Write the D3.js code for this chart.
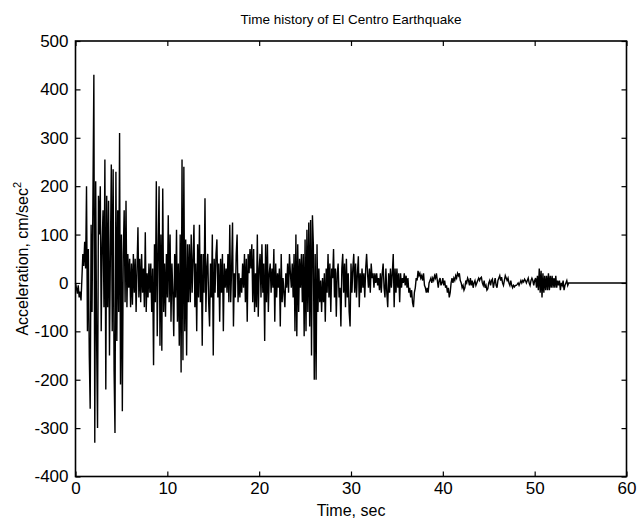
<!DOCTYPE html>
<html>
<head>
<meta charset="utf-8">
<script src="https://cdn.jsdelivr.net/npm/d3@7"></script>
<style>
    body { margin: 0; background: #fff; }
    svg text { font-family: "Liberation Sans", Arial, sans-serif; fill: #000; }
</style>
</head>
<body>
<div id="chart"></div>
<script>
// sampling step of the record, sec
var dt = 0.1;

// acceleration, cm/sec^2, every 0.1 sec
var accel_0_10 = [
    0, -10, -22, -5, -30, -18, -36, 10, 60, 35,
    85, 30, 200, -100, 70, -150, -260, 120, -60, 180,
    430, -330, 210, -120, -300, 180, 100, 200, -100, 80,
    150, -50, 255, -220, 180, -50, 170, -150, 60, 245,
    -100, 235, -180, -310, 230, -120, 150, -60, 310, -210,
    100, -265, 60, 150, -40, 170, -50, 60, -10, 50,
    -50, 40, -45, 60, -20, 50, -60, 30, 115, -30,
    50, -40, 60, -20, 30, -50, 105, -60, 20, -30,
    40, -20, 40, -60, 30, -170, 80, -40, 210, -110,
    60, 200, -130, 100, -140, 195, -60, 40, -70, 60
];
var accel_10_20 = [
    -30, 140, -40, 100, -80, 40, -20, -110, 60, -30,
    110, -80, 40, -130, 100, -185, 255, -160, 240, -100,
    90, -150, 80, -40, 80, -40, 100, -20, 50, 120,
    -50, 40, -100, 80, -30, 120, -40, 60, -130, 60,
    -20, 175, -60, 30, 60, -40, -90, 40, -30, 100,
    -150, 50, -20, 60, 90, -30, 40, -80, 50, -20,
    60, -100, 40, -10, 30, -20, 60, -40, 120, -40,
    30, 125, -90, 20, -30, 60, 100, -40, 20, -30,
    10, -20, 40, -10, 60, -40, 50, -80, 60, 20,
    70, 30, 80, -40, 70, -60, 20, -50, 100, -70
];
var accel_20_30 = [
    30, 60, -30, 80, -20, 40, -120, 80, -40, 80,
    -60, 20, 40, -20, 30, -10, 70, -80, 40, -30,
    20, -10, 30, -90, 60, -40, 10, -20, -50, 20,
    -10, 40, -20, 60, 20, -10, 40, -30, 60, -100,
    100, -110, 80, -60, 50, -10, 60, -40, 60, -110,
    90, -100, 110, -60, 125, -90, 130, -150, 140, 80,
    -200, 60, -200, 80, -60, 30, -40, 5, -60, 10,
    -40, 20, -80, 30, -20, 60, -30, 40, -60, 30,
    10, 70, -30, 30, -70, 20, 40, -30, -10, -90,
    30, 60, -20, 40, -50, 50, -30, 20, -60, -90
];
var accel_30_40 = [
    40, -20, 30, 60, -20, 40, -30, 20, 55, -50,
    20, -20, 30, -10, 20, -30, 30, 60, 20, -10,
    30, -20, 40, 10, 20, -10, 20, 0, 20, -5,
    10, -15, 20, -20, 20, 40, -10, -30, 30, -20,
    -50, 20, -20, 30, -10, 20, 60, -50, 30, -20,
    30, -10, 20, -40, 20, -10, 10, 0, 20, -5,
    15, -10, 10, -20, -10, -30, -15, -40, -50, -20,
    -10, 10, 5, 25, 15, 20, 10, 15, 5, 20,
    -5, -10, -20, -10, -20, 0, 5, 10, 0, 10,
    5, 15, 10, 20, 5, -10, 5, 10, -5, 0
];
var accel_40_50 = [
    10, -5, 5, -10, -5, -20, -10, -30, -20, 0,
    10, 0, 10, 5, 15, 10, 20, 15, 20, 5,
    0, -10, -5, -15, -10, 5, 0, 10, 5, -5,
    10, -5, 5, -10, 0, 5, -5, 0, 5, 10,
    5, 10, 12, 0, -5, 5, -10, -5, -15, -12,
    0, 5, -5, 5, 8, -10, 0, 10, -5, -10,
    5, 10, 15, 5, 12, 0, -5, 5, 15, 10,
    5, 10, 0, -5, 5, -5, -10, -5, -8, -5,
    -5, -3, 0, -5, 0, 5, 0, 5, 2, 8,
    5, 0, 5, 10, 0, -5, 5, 10, 5, -5
];
var accel_50_end = [
    5, 10, -10, 15, -15, 30, -20, 25, -30, 20,
    -20, 15, -15, 15, -15, 20, -15, 15, -10, 15,
    -10, 10, -10, 15, -10, 5, -5, 5, -15, 0,
    -5, 5, -15, -5, 0, 5, -5, 0
];
// flat tail after the record ends
var tail_time = [60];
var tail_accel = [0];

var x_ticks = [0, 10, 20, 30, 40, 50, 60];
var y_ticks = [-400, -300, -200, -100, 0, 100, 200, 300, 400, 500];

var accel = [].concat(accel_0_10, accel_10_20, accel_20_30, accel_30_40, accel_40_50, accel_50_end);
var data = accel.map(function (v, i) {
    return { t: i * dt, v: v };
});
tail_time.forEach(function (t, i) {
    data.push({ t: t, v: tail_accel[i] });
});

var margin = { top: 41, right: 10.5, bottom: 42.5, left: 75.5 },
    width = 637 - margin.left - margin.right,
    height = 519 - margin.top - margin.bottom;

var svg = d3.select("#chart")
    .append("svg")
    .attr("width", 637)
    .attr("height", 519)
    .append("g")
    .attr("transform", "translate(" + margin.left + "," + margin.top + ")");

var x = d3.scaleLinear().domain([0, 60]).range([0, width]);
var y = d3.scaleLinear().domain([-400, 500]).range([height, 0]);

// plain hyphen for negatives, like the original
var fmt = function (d) { return String(d); };

// the signal
var line = d3.line()
    .x(function (d) { return x(d.t); })
    .y(function (d) { return y(d.v); });

svg.append("path")
    .datum(data)
    .attr("d", line)
    .attr("fill", "none")
    .attr("stroke", "#000")
    .attr("stroke-width", 1.4)
    .attr("stroke-linejoin", "miter");

// axes, ticks inward on all four sides (matlab style)
var xb = svg.append("g")
    .attr("transform", "translate(0," + height + ")")
    .call(d3.axisBottom(x).tickValues(x_ticks).tickSize(-5).tickPadding(5).tickFormat(fmt));
var xt = svg.append("g")
    .call(d3.axisTop(x).tickValues(x_ticks).tickSize(-5).tickFormat(""));
var yl = svg.append("g")
    .call(d3.axisLeft(y).tickValues(y_ticks).tickSize(-5).tickPadding(7).tickFormat(fmt));
var yr = svg.append("g")
    .attr("transform", "translate(" + width + ",0)")
    .call(d3.axisRight(y).tickValues(y_ticks).tickSize(-5).tickFormat(""));

[xb, xt, yl, yr].forEach(function (g) {
    g.select(".domain").remove();
    g.selectAll(".tick line").attr("stroke", "#000").attr("stroke-width", 1.2);
    g.selectAll(".tick text").style("font-size", "17px");
});

svg.append("rect")
    .attr("width", width)
    .attr("height", height)
    .attr("fill", "none")
    .attr("stroke", "#000")
    .attr("stroke-width", 1.6);

// title + labels
svg.append("text")
    .attr("x", width / 2)
    .attr("y", -17)
    .attr("text-anchor", "middle")
    .style("font-size", "13.5px")
    .text("Time history of El Centro Earthquake");

svg.append("text")
    .attr("x", width / 2)
    .attr("y", height + 39)
    .attr("text-anchor", "middle")
    .style("font-size", "16px")
    .text("Time, sec");

var ylab = svg.append("text")
    .attr("transform", "translate(" + (-48) + "," + (height / 2) + ")rotate(-90)")
    .attr("text-anchor", "middle")
    .style("font-size", "16px");
ylab.append("tspan").text("Acceleration, cm/sec");
ylab.append("tspan").attr("dy", -7).style("font-size", "11px").text("2");
</script>
</body>
</html>
